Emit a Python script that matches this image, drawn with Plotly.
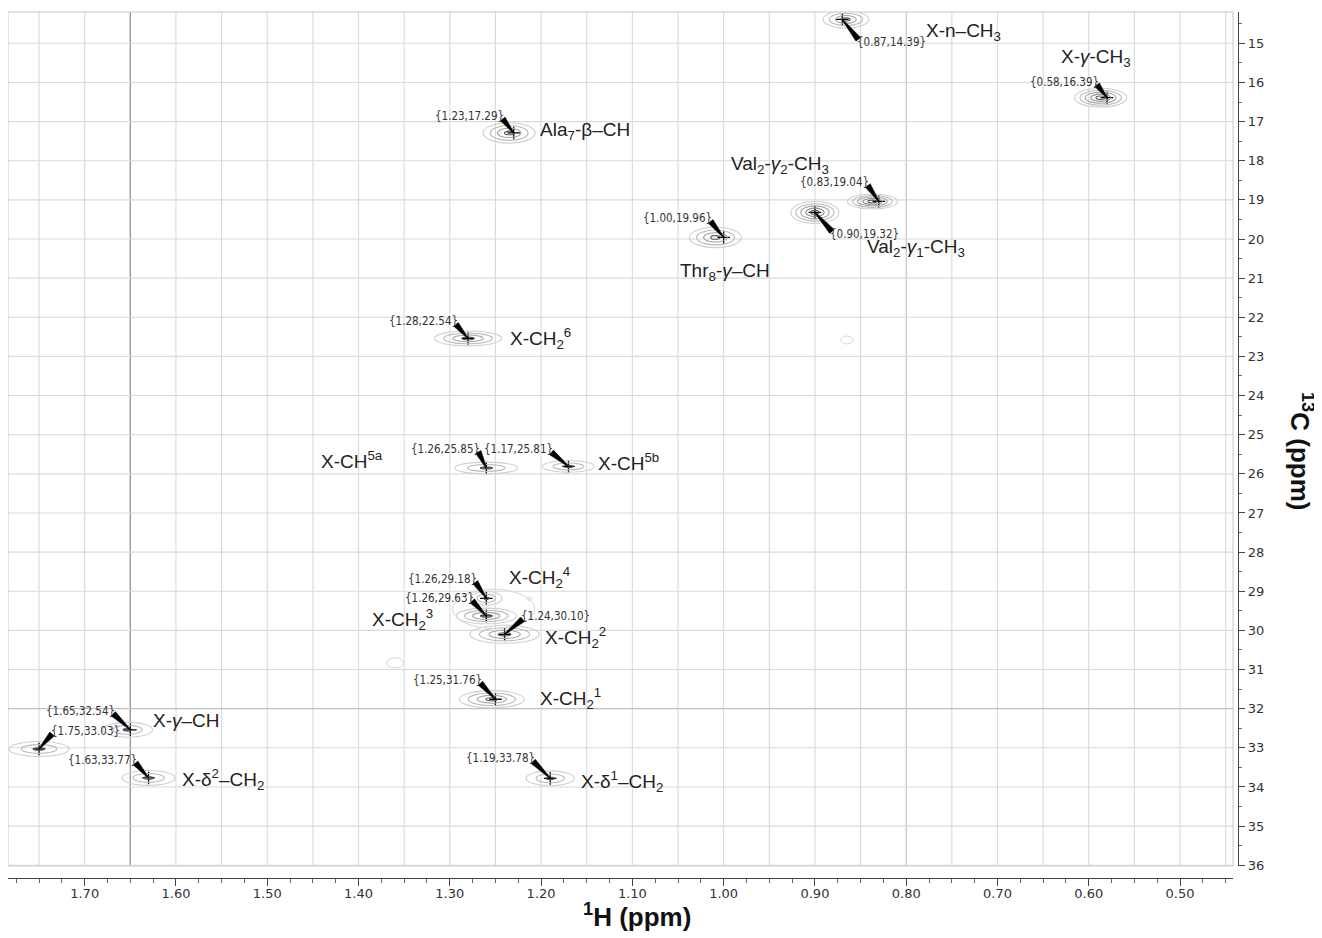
import plotly.graph_objects as go
import numpy as np

# ---------------- data ----------------
peak_h = [0.87, 0.58, 1.23, 0.83, 0.90, 1.00, 1.28, 1.26, 1.17, 1.26, 1.26, 1.24, 1.25, 1.65, 1.75, 1.63, 1.19]
peak_c = [14.39, 16.39, 17.29, 19.04, 19.32, 19.96, 22.54, 25.85, 25.81, 29.18, 29.63, 30.10, 31.76, 32.54, 33.03, 33.77, 33.78]

peak_names = [
    "X-n–CH<sub>3</sub>",
    "X-<i>γ</i>-CH<sub>3</sub>",
    "Ala<sub>7</sub>-β–CH",
    "Val<sub>2</sub>-<i>γ</i><sub>2</sub>-CH<sub>3</sub>",
    "Val<sub>2</sub>-<i>γ</i><sub>1</sub>-CH<sub>3</sub>",
    "Thr<sub>8</sub>-<i>γ</i>–CH",
    "X-CH<sub>2</sub><sup>6</sup>",
    "X-CH<sup>5a</sup>",
    "X-CH<sup>5b</sup>",
    "X-CH<sub>2</sub><sup>4</sup>",
    "X-CH<sub>2</sub><sup>3</sup>",
    "X-CH<sub>2</sub><sup>2</sup>",
    "X-CH<sub>2</sub><sup>1</sup>",
    "X-<i>γ</i>–CH",
    "",
    "X-δ<sup>2</sup>–CH<sub>2</sub>",
    "X-δ<sup>1</sup>–CH<sub>2</sub>",
]

# contour envelope of each peak (half widths in ppm, number of levels)
cont_wh = [0.025, 0.0285, 0.0285, 0.0274, 0.0263, 0.0285, 0.0367, 0.0345, 0.0285, 0.017, 0.033, 0.038, 0.0356, 0.0274, 0.033, 0.029, 0.0263]
cont_wc = [0.22, 0.24, 0.26, 0.19, 0.28, 0.26, 0.19, 0.15, 0.15, 0.18, 0.20, 0.23, 0.22, 0.19, 0.19, 0.19, 0.19]
cont_n = [4, 5, 4, 5, 5, 4, 4, 3, 3, 3, 4, 4, 4, 3, 3, 3, 3]
cont_dh = [-0.004, 0.007, 0.005, 0.007, 0.0, 0.009, 0.0, 0.0, 0.0, 0.0, 0.0, 0.0, 0.004, 0.003, 0.0, 0.0, 0.0]

# weak isolated contours
spot_h = [1.36, 0.865, 1.213, 1.252]
spot_c = [30.83, 22.58, 29.19, 29.45]
spot_wh = [0.0093, 0.0066, 0.003, 0.045]
spot_wc = [0.13, 0.10, 0.04, 0.50]

# label placement (pixel offsets of coordinate labels, data position of names)
coord_dx = [49, -43, -44, -44, 50, -46, -45, -41, -50, -44, -47, 51, -48, -50, 46, -46, -50]
coord_dy = [23, -16, -17, -19, 22, -19, -17, -19, -17, -19, -18, -18, -19, -19, -18, -18, -20]
name_h = [0.737, 0.592, 1.152, 0.938, 0.789, 0.999, 1.201, 1.407, 1.104, 1.202, 1.352, 1.162, 1.168, 1.589, None, 1.548, 1.111]
name_c = [14.72, 15.38, 17.23, 18.10, 20.22, 20.84, 22.55, 25.65, 25.70, 28.65, 29.72, 30.19, 31.75, 32.29, None, 33.82, 33.87]

x_range = [1.784, 0.442]
y_range = [36.02, 14.2]
grid_x = [round(v, 2) for v in np.arange(1.75, 0.44, -0.05)]
grid_y = list(range(15, 37))

# ---------------- geometry ----------------
# the page places the figure 8 px from the window's top-left corner;
# target positions below are window pixels, converted with PAGE_OFF.
PAGE_OFF = 8
W, H = 1322 - PAGE_OFF, 938 - PAGE_OFF
x_px0, x_px1 = 8 - PAGE_OFF, 1233 - PAGE_OFF      # plot area horizontal extent
y_px0, y_px1 = 12 - PAGE_OFF, 866 - PAGE_OFF      # plot area vertical extent
yaxis_px = 1238 - PAGE_OFF                        # right axis line
xaxis_py = 878 - PAGE_OFF                         # bottom axis line
ml, mt = x_px0, y_px0
mr = W - yaxis_px
mb = H - xaxis_py
pw, ph = W - ml - mr, H - mt - mb
ppx = (x_px1 - x_px0) / (x_range[0] - x_range[1])
ppy = (y_px1 - y_px0) / (y_range[0] - y_range[1])


def off(h, c, dx, dy):
    """data position displaced by (dx, dy) screen pixels"""
    return h - dx / ppx, c + dy / ppy


fig = go.Figure()
shapes = []
# grid
for v in grid_x:
    if abs(v - 1.65) < 1e-6:
        col, w = "#9a9a9a", 1.4
    elif abs(v - 0.80) < 1e-6:
        col, w = "#c4c4c4", 1.2
    else:
        col, w = "#dadada", 1.1
    shapes.append(dict(type="line", xref="x", yref="y domain", x0=v, x1=v, y0=0, y1=1,
                       line=dict(color=col, width=w), layer="below"))
for v in grid_y:
    col = "#c0c0c0" if v == 32 else "#dadada"
    shapes.append(dict(type="line", xref="x domain", yref="y", x0=0, x1=1, y0=v, y1=v,
                       line=dict(color=col, width=1.1), layer="below"))
shapes.append(dict(type="rect", xref="x domain", yref="y domain", x0=0, x1=1, y0=0, y1=1,
                   line=dict(color="#c8c8c8", width=1), layer="below"))

# contours
ring_colors = ["#d0d0d0", "#bababa", "#a4a4a4", "#8c8c8c", "#6a6a6a"]
for i in range(len(peak_h)):
    n = cont_n[i]
    cx = peak_h[i] + cont_dh[i]
    cy = peak_c[i]
    for k in range(n):
        f = 1.0 - k * (0.82 / (n - 1))
        col = ring_colors[k] if k < n - 1 else "#555555"
        shapes.append(dict(type="circle", xref="x", yref="y",
                           x0=cx + cont_wh[i] * f, x1=cx - cont_wh[i] * f,
                           y0=cy - cont_wc[i] * f, y1=cy + cont_wc[i] * f,
                           line=dict(color=col, width=1.1)))
for i in range(len(spot_h)):
    shapes.append(dict(type="circle", xref="x", yref="y",
                       x0=spot_h[i] + spot_wh[i], x1=spot_h[i] - spot_wh[i],
                       y0=spot_c[i] - spot_wc[i], y1=spot_c[i] + spot_wc[i],
                       line=dict(color="#d6d6d6", width=1)))

# wedge pointers from each coordinate label to its peak
for i in range(len(peak_h)):
    dx, dy = coord_dx[i], coord_dy[i]
    bx = dx - np.sign(dx) * 33
    by = dy - np.sign(dy) * 3
    L = np.hypot(bx, by)
    ux, uy = bx / L, by / L
    nx, ny = -uy, ux
    hw = 3.0
    pts = [(0.4 * nx, 0.4 * ny), (bx + hw * nx, by + hw * ny), (bx - hw * nx, by - hw * ny), (-0.4 * nx, -0.4 * ny)]
    d = "M " + " L ".join("%.5f,%.5f" % off(peak_h[i], peak_c[i], px, py) for px, py in pts) + " Z"
    shapes.append(dict(type="path", xref="x", yref="y", path=d,
                       fillcolor="black", line=dict(color="black", width=0.5)))

fig.add_trace(go.Scatter(
    x=peak_h, y=peak_c, mode="markers",
    marker=dict(symbol="cross-thin", size=9, line=dict(color="black", width=1.3)),
    hoverinfo="x+y", showlegend=False))

annotations = []
for i in range(len(peak_h)):
    lx, ly = off(peak_h[i], peak_c[i], coord_dx[i], coord_dy[i])
    annotations.append(dict(
        x=lx, y=ly, xref="x", yref="y",
        text="{%.2f,%.2f}" % (peak_h[i], peak_c[i]),
        showarrow=False, xanchor="center", yanchor="middle",
        font=dict(family="DejaVu Sans Condensed, DejaVu Sans", size=11.5, color="#333333")))
    if peak_names[i]:
        annotations.append(dict(
            x=name_h[i], y=name_c[i], xref="x", yref="y", text=peak_names[i],
            showarrow=False, xanchor="center", yanchor="middle",
            font=dict(family="Liberation Sans, Arial", size=19, color="#222222")))

titles = [("<b><sup>1</sup>H (ppm)</b>", 637, 915, 0), ("<b><sup>13</sup>C (ppm)</b>", 1302, 451, 90)]
for txt, px, py, ang in titles:
    px, py = px - PAGE_OFF, py - PAGE_OFF
    annotations.append(dict(x=(px - ml) / pw, y=1 - (py - mt) / ph, xref="paper", yref="paper",
                            text=txt, showarrow=False, textangle=ang, xanchor="center", yanchor="middle",
                            font=dict(family="Liberation Sans, Arial", size=26, color="#111111")))

tick_font = dict(family="DejaVu Sans", size=13, color="#333333")
fig.update_layout(
    width=W, height=H,
    margin=dict(l=ml, r=mr, t=mt, b=mb, autoexpand=False),
    paper_bgcolor="white", plot_bgcolor="white",
    showlegend=False,
    shapes=shapes, annotations=annotations,
    xaxis=dict(range=x_range, domain=[0, (x_px1 - ml) / pw], anchor="free", position=0,
               automargin=False,
               showgrid=False, zeroline=False, showline=True, linecolor="#444444", linewidth=1.3,
               dtick=0.1, tick0=0, tickformat=".2f",
               ticks="outside", ticklen=7, tickcolor="#444444", tickwidth=1,
               ticklabelstandoff=-4,
               minor=dict(dtick=0.025, tick0=0, ticks="outside", ticklen=4, tickcolor="#666666", showgrid=False),
               tickfont=tick_font),
    yaxis=dict(range=y_range, domain=[(H - mb - y_px1) / ph, 1], anchor="free", position=1, side="right",
               automargin=False,
               showgrid=False, zeroline=False, showline=True, linecolor="#444444", linewidth=1.3,
               dtick=1, tick0=0, ticks="outside", ticklen=6, tickcolor="#444444",
               minor=dict(dtick=0.5, ticks="outside", ticklen=3, tickcolor="#666666", showgrid=False),
               tickfont=tick_font),
)

fig.write_html("out.html")
